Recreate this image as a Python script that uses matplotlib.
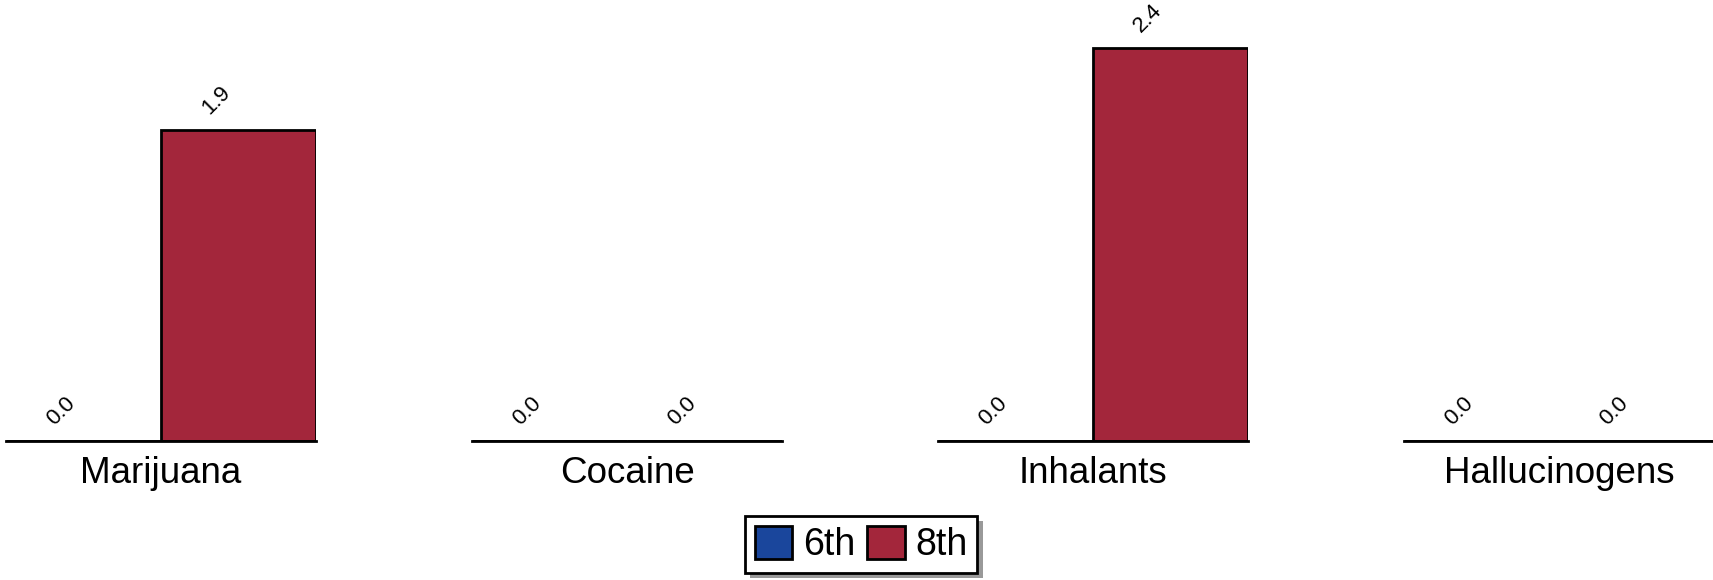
import matplotlib.pyplot as plt
from matplotlib.patches import Rectangle

# Data
categories = ["Marijuana", "Cocaine", "Inhalants", "Hallucinogens"]
grades = ["6th", "8th"]
grade6 = [0.0, 0.0, 0.0, 0.0]
grade8 = [1.9, 0.0, 2.4, 0.0]

colors = ["#1a469c", "#a3263b"]

plt.rcParams["font.family"] = ["Liberation Sans", "DejaVu Sans"]

fig = plt.figure(figsize=(17.13, 5.8), dpi=100)
W, H = 1713.0, 580.0

# panel left edges in pixels
lefts = [6, 472, 938, 1404]
pw = 310
base = 441

for i, cat in enumerate(categories):
    ax = fig.add_axes([lefts[i] / W, (H - base) / H, pw / W, base / H])
    vals = [grade6[i], grade8[i]]
    bars = ax.bar([0, 1], vals, width=1.0, color=colors, edgecolor="black", linewidth=2, label=grades)
    ax.set_xlim(-0.5, 1.5)
    ax.set_ylim(0, 2.694)
    for x, v in zip([0, 1], vals):
        ax.annotate(f"{v:.1f}", (x, v), xytext=(-16, 21.5), textcoords="offset points",
                    ha="center", va="center", rotation=45, fontsize=16, clip_on=False)
    for s in ["top", "left", "right"]:
        ax.spines[s].set_visible(False)
    ax.spines["bottom"].set_linewidth(2)
    ax.set_yticks([])
    ax.set_xticks([0.5])
    ax.set_xticklabels([cat], fontsize=26.5)
    ax.tick_params(axis="x", length=0, pad=11)
    ax.patch.set_alpha(0)
    if i == 0:
        handles = bars

leg = fig.legend(handles, grades, loc="center", bbox_to_anchor=(861.5 / W, 1 - 544.5 / H),
                 ncol=2, fontsize=27, frameon=True, fancybox=False,
                 handlelength=1.0, handleheight=1.0, handletextpad=0.3, columnspacing=0.3,
                 borderpad=0.25, borderaxespad=0)
leg.get_frame().set_edgecolor("black")
leg.get_frame().set_linewidth(2)
leg.get_frame().set_alpha(1)
leg.set_zorder(10)

# gray drop shadow behind the legend box
fig.canvas.draw()
bb = leg.get_window_extent()
shadow = Rectangle(((bb.x0 + 5) / W, (bb.y0 - 5) / H), bb.width / W, bb.height / H,
                   transform=fig.transFigure, facecolor="#999999", edgecolor="none", zorder=9)
fig.add_artist(shadow)

fig.savefig("out.png", dpi=100)
